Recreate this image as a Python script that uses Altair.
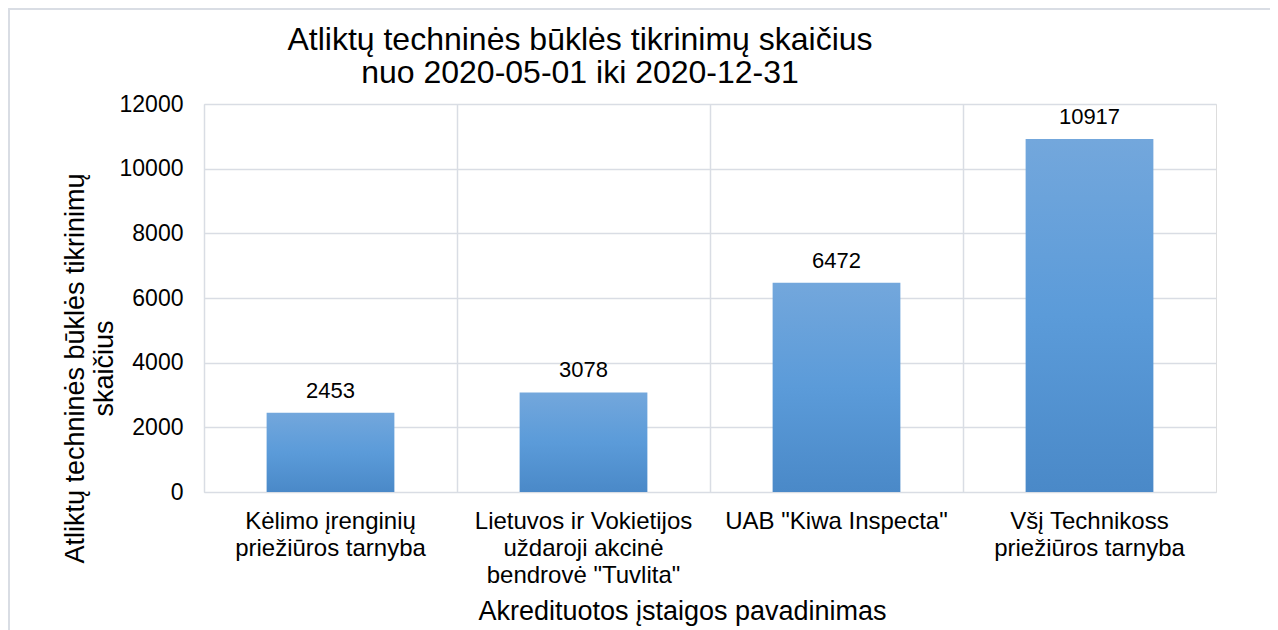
import altair as alt
import pandas as pd

categories = [
    "Kėlimo įrenginių|priežiūros tarnyba",
    "Lietuvos ir Vokietijos|uždaroji akcinė|bendrovė \"Tuvlita\"",
    "UAB \"Kiwa Inspecta\"",
    "Všį Technikoss|priežiūros tarnyba",
]
values = [2453, 3078, 6472, 10917]
y_ticks = [0, 2000, 4000, 6000, 8000, 10000, 12000]

df = pd.DataFrame({"cat": categories, "val": values})

FONT = "Liberation Sans"
GRID = "#d9dde4"

x_enc = alt.X(
    "cat:N",
    sort=categories,
    title="Akredituotos įstaigos pavadinimas",
    scale=alt.Scale(paddingInner=0, paddingOuter=0),
    axis=alt.Axis(
        labelExpr="split(datum.label, '|')",
        labelAngle=0,
        labelFontSize=24,
        labelLineHeight=27,
        labelPadding=17,
        labelLimit=0,
        labelColor="#000000",
        labelFont=FONT,
        ticks=False,
        domain=False,
        grid=True,
        gridColor=GRID,
        gridWidth=1.5,
        bandPosition=0,
        titleFontSize=27,
        titleFont=FONT,
        titleFontWeight="normal",
        titleColor="#000000",
        titlePadding=11,
        titleX=478,
    ),
)

y_enc = alt.Y(
    "val:Q",
    scale=alt.Scale(domain=[0, 12000], nice=False),
    title=["Atliktų techninės būklės tikrinimų", "skaičius"],
    axis=alt.Axis(
        values=y_ticks,
        format="d",
        labelFontSize=23,
        labelColor="#000000",
        labelFont=FONT,
        labelPadding=21,
        ticks=False,
        domain=False,
        grid=True,
        gridColor=GRID,
        gridWidth=1.5,
        titleFontSize=27,
        titleFont=FONT,
        titleFontWeight="normal",
        titleColor="#000000",
        titlePadding=1,
        titleLineHeight=29,
        titleY=264,
    ),
)

bars = alt.Chart(df).mark_bar(
    width=alt.RelativeBandSize(0.505),
    color=alt.Gradient(
        gradient="linear",
        x1=0, x2=0, y1=0, y2=1,
        stops=[
            alt.GradientStop(color="#73a7dc", offset=0),
            alt.GradientStop(color="#5b9bd9", offset=0.5),
            alt.GradientStop(color="#4a89c8", offset=1),
        ],
    ),
).encode(x=x_enc, y=y_enc)

labels = alt.Chart(df).mark_text(
    baseline="bottom", dy=-10, fontSize=22, font=FONT, color="#000000"
).encode(x=alt.X("cat:N", sort=categories), y="val:Q", text="val:Q")

frame = alt.Chart(df).mark_rect(
    fill="transparent", stroke=GRID, strokeWidth=1.5
).encode(
    x=alt.value(-195), x2=alt.value(1200),
    y=alt.value(-95), y2=alt.value(700),
)

chart = (
    alt.layer(frame, bars, labels)
    .properties(
        width=1012,
        height=388,
        autosize=alt.AutoSizeParams(type="none"),
        padding={"left": 196, "top": 96, "right": 54, "bottom": 150},
        title=alt.TitleParams(
            text=["Atliktų techninės būklės tikrinimų skaičius", "nuo 2020-05-01 iki 2020-12-31"],
            fontSize=32,
            font=FONT,
            fontWeight="normal",
            color="#000000",
            anchor="middle",
            dx=-130,
            dy=92,
            lineHeight=33,
            offset=10,
        ),
    )
    .configure_view(stroke=GRID, strokeWidth=1.5)
    .configure(background="#ffffff")
)

chart.save("out.html", embed_options={"renderer": "svg", "actions": False})
